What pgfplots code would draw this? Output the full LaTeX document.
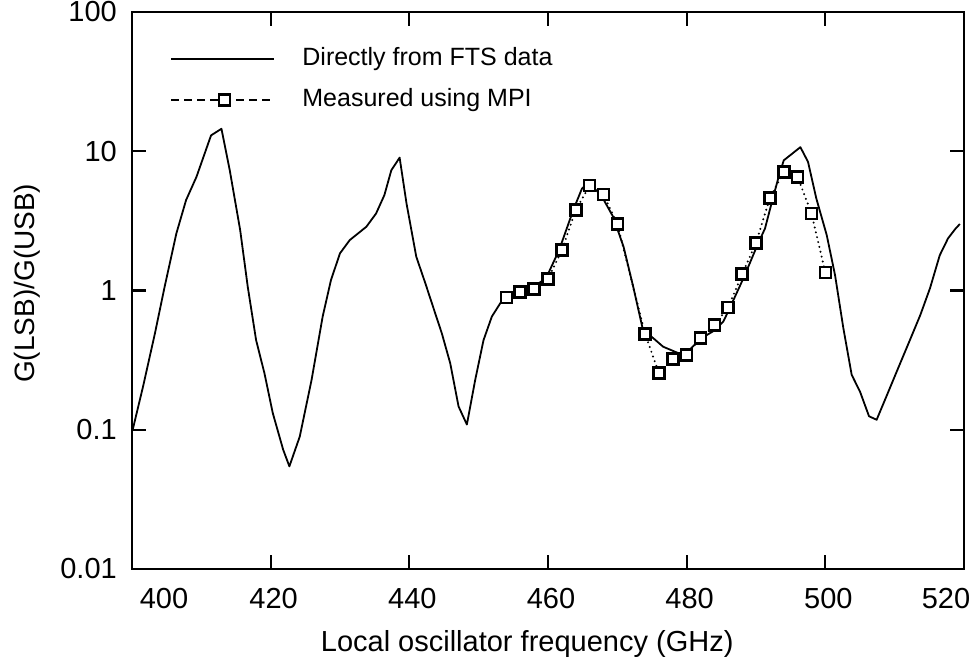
\documentclass[border=0pt]{standalone}
\usepackage{fontspec}
\setmainfont{Liberation Sans}
\usepackage{pgfplots}
\usepackage{pgfplotstable}
\pgfplotsset{compat=1.18}

\pgfplotstableread{
f v
400.1 0.1
401.6 0.205
403.3 0.49
404.7 1.06
406.4 2.57
407.8 4.46
409.3 6.55
411.4 13.0
412.9 14.5
414.1 7.3
415.6 2.72
416.7 1.06
417.9 0.44
419.1 0.255
420.3 0.132
421.8 0.072
422.7 0.0546
424.2 0.0895
425.9 0.228
427.5 0.65
428.7 1.19
430.0 1.85
431.4 2.30
433.8 2.87
435.2 3.57
436.4 4.84
437.4 7.3
438.6 9.0
439.6 4.2
441.0 1.75
442.3 1.13
443.4 0.77
444.7 0.49
445.9 0.30
447.1 0.147
448.3 0.109
449.5 0.228
450.7 0.44
451.9 0.65
453.7 0.90
455.6 1.0
457.7 1.05
459.7 1.22
461.6 1.95
463.7 3.85
464.9 5.4
465.8 5.9
467.6 4.9
469.4 3.38
470.9 2.06
472.3 1.06
473.7 0.52
475.2 0.454
476.6 0.395
478.8 0.355
479.8 0.35
482.0 0.45
484.1 0.52
485.3 0.60
486.2 0.745
488.3 1.26
490.2 2.12
491.3 2.79
492.3 4.34
493.2 6.37
494.0 8.6
496.4 10.7
497.5 8.4
498.7 4.58
500.2 2.5
501.4 1.29
502.6 0.536
503.8 0.248
505.0 0.188
506.3 0.125
507.4 0.118
508.9 0.178
510.3 0.262
512.2 0.441
513.7 0.667
515.1 1.04
516.5 1.79
517.7 2.37
518.8 2.79
519.4 3.0
}\ftsdata

\pgfplotstableread{
f v
454 0.893
456 0.98
458 1.03
460 1.21
462 1.95
464 3.78
466 5.67
468 4.89
470 3.0
474 0.488
476 0.255
478 0.321
480 0.345
482 0.454
484 0.566
486 0.757
488 1.31
490 2.2
492 4.62
494 7.1
496 6.55
498 3.57
500 1.35
}\mpidata

\begin{document}
\begin{tikzpicture}
\begin{axis}[
  name=ax,
  scale only axis,
  width=832bp, height=557bp,
  xmin=400, xmax=520,
  ymode=log, ymin=0.01, ymax=100,
  xtick={400,420,440,460,480,500,520},
  xticklabels={\hspace*{58bp}400,420,440,460,480,500,520\hspace*{42bp}\mbox{}},
  ytick={0.01,0.1,1,10,100},
  yticklabels={0.01,0.1,1,10,100},
  yminorticks=false,
  /pgf/number format/assume math mode=true,
  axis line style={line width=2.5bp},
  every tick/.style={black, line width=2.2bp},
  major tick length=14bp,
  tick align=inside,
  xticklabel style={font=\fontsize{29bp}{32bp}\selectfont, anchor=north, inner sep=0pt, yshift=-19bp, xshift=3bp},
  yticklabel style={font=\fontsize{29bp}{32bp}\selectfont, anchor=east, inner sep=0pt, xshift=-15bp},
  xlabel={Local oscillator frequency (GHz)},
  ylabel={G(LSB)/G(USB)},
  xlabel style={font=\fontsize{29bp}{32bp}\selectfont, at={(axis description cs:0.475,-0.135)}, anchor=center},
  ylabel style={font=\fontsize{28bp}{32bp}\selectfont, at={(axis description cs:-0.1262,0.513)}, anchor=center},
  legend cell align=left,
  legend style={at={(axis description cs:0.0457,0.9363)}, anchor=north west, draw=none, fill=none,
    font=\fontsize{25bp}{28bp}\selectfont, row sep=18bp, column sep=27bp, inner sep=0pt,
    nodes={inner sep=0pt, text height=18bp, text depth=5bp}},
]
\addplot[black, line width=1.8bp, line join=round,
  legend image code/.code={\draw[black, line width=1.8bp] (0bp,0bp) -- (103bp,0bp);}]
  table[x=f, y=v] {\ftsdata};
\addlegendentry{Directly from FTS data}
\addplot[black, line width=2.2bp, line cap=round, dash pattern=on 0bp off 5bp,
  mark=square*, mark size=5.5bp,
  mark options={solid, fill=white, draw=black, line width=2.6bp, line cap=butt},
  legend image code/.code={\draw[black, line width=2.2bp, line cap=butt, dash pattern=on 8bp off 5bp, mark=square*, mark size=5.5bp, mark options={solid, fill=white, draw=black, line width=2.6bp}, mark repeat=2, mark phase=2] plot coordinates {(0bp,0bp) (53bp,0bp) (103bp,0bp)};}]
  table[x=f, y=v] {\mpidata};
\addlegendentry{Measured using MPI}
\end{axis}
\pgfresetboundingbox
\path (ax.south west) ++(-132bp,-96bp) rectangle ([xshift=8bp,yshift=12bp]ax.north east);
\end{tikzpicture}
\end{document}
